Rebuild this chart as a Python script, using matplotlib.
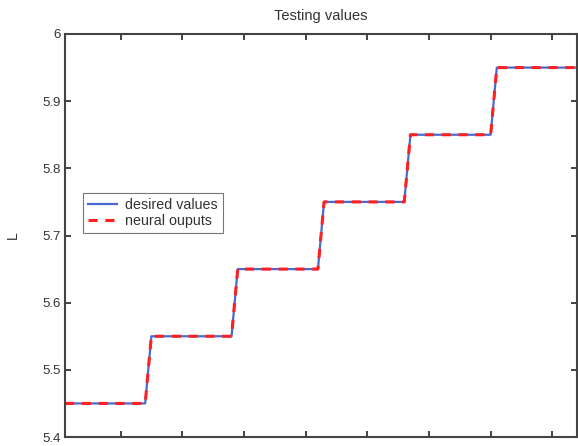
import matplotlib
matplotlib.use("Agg")
import matplotlib.pyplot as plt
import numpy as np

# Data: 84 samples, six plateaus of 14 samples each
levels = [5.45, 5.55, 5.65, 5.75, 5.85, 5.95]
samples_per_level = 14
desired = [v for v in levels for _ in range(samples_per_level)]
neural = list(desired)
x = list(range(1, len(desired) + 1))

yticks = [5.4, 5.5, 5.6, 5.7, 5.8, 5.9, 6.0]
yticklabels = ["5.4", "5.5", "5.6", "5.7", "5.8", "5.9", "6"]
xticks = [10, 20, 30, 40, 50, 60, 70, 80]

plt.rcParams['font.family'] = ['Liberation Sans', 'DejaVu Sans']
txt = '#333333'

fig = plt.figure(figsize=(5.78, 4.46), dpi=100)
ax = fig.add_axes([65/578, 1-437/446, (577-65)/578, (437-34)/446])

ax.plot(x, desired, color='#4a6ad0', lw=1.6, label='desired values')
ax.plot(x, neural, color='#ff2020', lw=2.2, ls=(0, (3, 2.5)), label='neural ouputs')

ax.set_xlim(1, 84)
ax.set_ylim(5.4, 6.0)
ax.set_yticks(yticks)
ax.set_yticklabels(yticklabels)
ax.set_xticks(xticks)
ax.set_xticklabels([])
ax.tick_params(direction='in', top=True, right=True, length=4, width=1.2,
               labelsize=9.5, colors='#222222', labelcolor=txt, pad=3)
for s in ax.spines.values():
    s.set_linewidth(1.5)
    s.set_color('#444444')

ax.set_title('Testing values', fontsize=10.5, color=txt, pad=10)
ax.set_ylabel('L', fontsize=10, color=txt, labelpad=16)

leg = ax.legend(loc='upper left', bbox_to_anchor=(0.035, 0.6055), fontsize=10.3,
                frameon=True, fancybox=False, borderpad=0.35, handlelength=2.0,
                labelspacing=0.15, handletextpad=0.6, borderaxespad=0)
leg.get_frame().set_edgecolor('#555555')
leg.get_frame().set_linewidth(0.8)
for t in leg.get_texts():
    t.set_color(txt)

fig.savefig('out.png', dpi=100)
